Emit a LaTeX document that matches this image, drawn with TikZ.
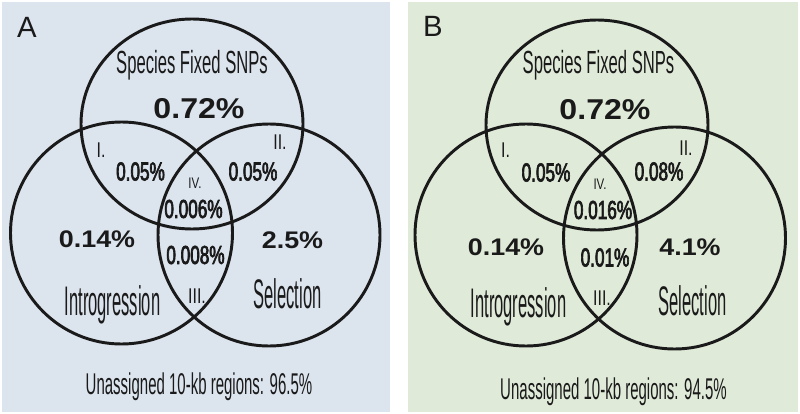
\documentclass[tikz,border=0pt]{standalone}
\usepackage{fontspec}
\setmainfont{Liberation Sans}
\newfontfamily\titlefont[FakeStretch=0.52]{Liberation Sans}
\newfontfamily\setnamefont[FakeStretch=0.40]{Liberation Sans}
\newfontfamily\notefont[FakeStretch=0.5]{Liberation Sans}
\newfontfamily\pctfont[FakeStretch=0.66,FakeBold=2.5]{Liberation Sans}
\newfontfamily\bigpctfont[FakeStretch=1.12]{Liberation Sans}
\newfontfamily\romanfont[FakeStretch=0.75]{Liberation Sans}

\definecolor{ink}{HTML}{1A1A1A}
\definecolor{bgA}{HTML}{DCE4EE}
\definecolor{bgB}{HTML}{DFEAD8}

\tikzset{
    every node/.style = {inner sep=0pt, text=ink},
    venn/.style = {draw=ink, line width=2.2pt},
    panel/.style = {font=\fontsize{22}{26}\selectfont},
    title/.style = {font=\titlefont\fontsize{24}{28}\selectfont},
    setname/.style = {font=\setnamefont\fontsize{31}{36}\selectfont},
    bigpct/.style = {font=\bigpctfont\bfseries\fontsize{18}{21}\selectfont},
    toppct/.style = {font=\bigpctfont\bfseries\fontsize{21.5}{25}\selectfont},
    pct/.style = {font=\pctfont\fontsize{19.5}{23}\selectfont},
    roman/.style = {font=\romanfont\fontsize{16}{19}\selectfont},
    smallroman/.style = {font=\romanfont\fontsize{11.5}{14}\selectfont},
    note/.style = {font=\notefont\fontsize{22.5}{26}\selectfont}
}

\begin{document}
\begin{tikzpicture}[x=0.75pt, y=-0.75pt]
    \useasboundingbox (0,0) rectangle (800,414);

    % backgrounds of the two panels
    \fill[bgA] (2,2) rectangle (390,412);
    \fill[bgB] (408,2) rectangle (798,412);

    % panel A
    \draw[venn] (192,124) ellipse [x radius=111, y radius=105];
    \draw[venn] (121.5,233) circle [radius=111];
    \draw[venn] (269,235) circle [radius=111];

    \node[panel] (pA) at (27,27) {A};
    \node[title] (sfA) at (192,65) {Species Fixed SNPs};
    \node[toppct] (sfpA) at (199,109) {0.72\%};
    \node[roman] (rIA) at (101,150) {I.};
    \node[pct] (rIpA) at (140.5,171.5) {0.05\%};
    \node[roman] (rIIA) at (280,142) {II.};
    \node[pct] (rIIpA) at (253,171.5) {0.05\%};
    \node[smallroman] (rIVA) at (195,183.5) {IV.};
    \node[pct] (rIVpA) at (193.5,209) {0.006\%};
    \node[pct] (rIIIpA) at (195.5,255) {0.008\%};
    \node[roman] (rIIIA) at (197,296) {III.};
    \node[bigpct] (inpA) at (97,239) {0.14\%};
    \node[bigpct] (selpA) at (292.5,240.5) {2.5\%};
    \node[setname] (inA) at (112.5,305) {Introgression};
    \node[setname] (selA) at (287.5,294) {Selection};
    \node[note] (unA) at (199,386.5) {Unassigned 10-kb regions: 96.5\%};

    % panel B
    \draw[venn] (597,125) ellipse [x radius=111, y radius=105];
    \draw[venn] (526,235) circle [radius=111];
    \draw[venn] (674.5,238) circle [radius=111];

    \node[panel] (pB) at (433,26) {B};
    \node[title] (sfB) at (598.5,65) {Species Fixed SNPs};
    \node[toppct] (sfpB) at (605,110) {0.72\%};
    \node[roman] (rIB) at (505.5,150) {I.};
    \node[pct] (rIpB) at (546,172.5) {0.05\%};
    \node[roman] (rIIB) at (686,148) {II.};
    \node[pct] (rIIpB) at (659,171.5) {0.08\%};
    \node[smallroman] (rIVB) at (600,184) {IV.};
    \node[pct] (rIVpB) at (603,210) {0.016\%};
    \node[pct] (rIIIpB) at (605,257.5) {0.01\%};
    \node[roman] (rIIIB) at (602,298) {III.};
    \node[bigpct] (inpB) at (506,247.5) {0.14\%};
    \node[bigpct] (selpB) at (690,247.5) {4.1\%};
    \node[setname] (inB) at (518.5,307) {Introgression};
    \node[setname] (selB) at (692.5,301) {Selection};
    \node[note] (unB) at (613.5,391.5) {Unassigned 10-kb regions: 94.5\%};

\end{tikzpicture}
\end{document}
